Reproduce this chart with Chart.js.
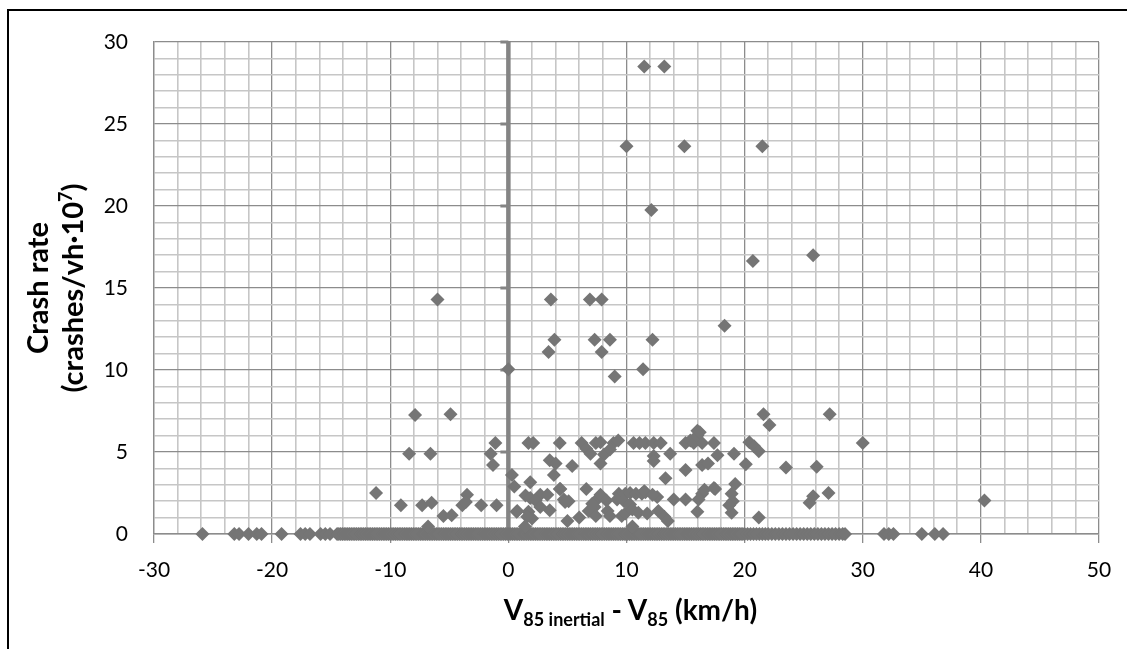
<!DOCTYPE html>
<html>
<head>
<meta charset="utf-8">
<script src="https://cdn.jsdelivr.net/npm/chart.js@4.4.1/dist/chart.umd.min.js"></script>
<style>
  body { margin: 0; background: #fff; }
  #wrap { position: relative; width: 1127px; height: 649px; overflow: hidden; }
  #frame { position: absolute; left: 7px; top: 9px; width: 1200px; height: 700px;
           border-top: 2px solid #000; border-left: 2px solid #000; }
  canvas { position: absolute; left: 0; top: 0; }
  .ttl { position: absolute; font-family: Lato, "Liberation Sans", sans-serif; font-weight: bold;
         color: #000; text-align: center; white-space: nowrap; }
  #xTitle { left: 158px; width: 945px; top: 592px; font-size: 28px; }
  #xTitle sub { font-size: 18px; vertical-align: -6px; }
  #yTitle { left: -146px; width: 400px; top: 253px; font-size: 29px; line-height: 35px; transform: rotate(-90deg); }
  #yTitle sup { font-size: 18px; vertical-align: 11px; line-height: 0; }
</style>
</head>
<body>
<div id="wrap">
  <div id="frame"></div>
  <canvas id="chart" width="1127" height="649"></canvas>
  <div id="xTitle" class="ttl">V<sub>85 inertial</sub> - V<sub>85</sub> (km/h)</div>
  <div id="yTitle" class="ttl">Crash rate<br>(crashes/vh·10<sup>7</sup>)</div>
</div>
<script>
  // sites with zero crash rate (x only) - the run between -14.5 and 28.5 is so dense it reads as a solid band
  const zeroX = [-25.9, -23.2, -22.8, -22.0, -21.3, -20.9, -19.2, -17.6, -17.2, -16.8, -15.9, -15.5, -15.1,
    -14.5, -14.35, -14.2, -14.05, -13.9, -13.75, -13.6, -13.45, -13.3, -13.15, -13.0, -12.85, -12.7,
    -12.55, -12.4, -12.25, -12.1, -11.95, -11.8, -11.65, -11.5, -11.35, -11.2, -11.05, -10.9, -10.75,
    -10.6, -10.45, -10.3, -10.15, -10.0, -9.85, -9.7, -9.55, -9.4, -9.25, -9.1, -8.95, -8.8, -8.65,
    -8.5, -8.35, -8.2, -8.05, -7.9, -7.75, -7.6, -7.45, -7.3, -7.15, -7.0, -6.85, -6.7, -6.55, -6.4,
    -6.25, -6.1, -5.95, -5.8, -5.65, -5.5, -5.35, -5.2, -5.05, -4.9, -4.75, -4.6, -4.45, -4.3, -4.15,
    -4.0, -3.85, -3.7, -3.55, -3.4, -3.25, -3.1, -2.95, -2.8, -2.65, -2.5, -2.35, -2.2, -2.05, -1.9,
    -1.75, -1.6, -1.45, -1.3, -1.15, -1.0, -0.85, -0.7, -0.55, -0.4, -0.25, -0.1, 0.05, 0.2, 0.35,
    0.5, 0.65, 0.8, 0.95, 1.1, 1.25, 1.4, 1.55, 1.7, 1.85, 2.0, 2.15, 2.3, 2.45, 2.6, 2.75, 2.9, 3.05,
    3.2, 3.35, 3.5, 3.65, 3.8, 3.95, 4.1, 4.25, 4.4, 4.55, 4.7, 4.85, 5.0, 5.15, 5.3, 5.45, 5.6, 5.75,
    5.9, 6.05, 6.2, 6.35, 6.5, 6.65, 6.8, 6.95, 7.1, 7.25, 7.4, 7.55, 7.7, 7.85, 8.0, 8.15, 8.3, 8.45,
    8.6, 8.75, 8.9, 9.05, 9.2, 9.35, 9.5, 9.65, 9.8, 9.95, 10.1, 10.25, 10.4, 10.55, 10.7, 10.85, 11.0,
    11.15, 11.3, 11.45, 11.6, 11.75, 11.9, 12.05, 12.2, 12.35, 12.5, 12.65, 12.8, 12.95, 13.1, 13.25,
    13.4, 13.55, 13.7, 13.85, 14.0, 14.15, 14.3, 14.45, 14.6, 14.75, 14.9, 15.05, 15.2, 15.35, 15.5,
    15.65, 15.8, 15.95, 16.1, 16.25, 16.4, 16.55, 16.7, 16.85, 17.0, 17.15, 17.3, 17.45, 17.6, 17.75,
    17.9, 18.05, 18.2, 18.35, 18.5, 18.65, 18.8, 18.95, 19.1, 19.25, 19.4, 19.55, 19.7, 19.85, 20.0,
    20.25, 20.5, 20.75, 21.0, 21.25, 21.5, 21.75, 22.0, 22.3, 22.6, 22.9, 23.2, 23.5, 23.8, 24.1, 24.4,
    24.7, 25.0, 25.3, 25.6, 25.9, 26.2, 26.5, 26.8, 27.1, 27.4, 27.7, 28.0, 28.3, 28.5,
    31.8, 32.2, 32.6, 35.0, 36.1, 36.8];

  // sites with crashes
  const crashX = [11.5, 13.2, 10.0, 14.9, 21.5, 12.1, 20.7, 25.8, -6.0, 3.6, 6.9, 7.9, 18.3, 3.9, 7.3,
    8.6, 12.2, 3.4, 7.9, 9.0, 11.4, 0.0,
    -7.9, -4.9, 21.6, 22.1, 27.2, 16.0,
    -8.4, -6.6, -1.1, -1.5, -1.3,
    1.7, 2.1, 4.35, 6.2, 6.6, 7.4, 7.8, 6.95, 8.1, 7.8, 8.9, 9.3, 8.6, 10.6, 11.1, 11.6, 12.3, 12.9,
    12.3, 12.3, 13.7,
    15.0, 15.4, 15.7, 16.0, 16.2, 16.4, 17.4, 17.7, 19.1, 20.1, 20.4, 20.8, 21.2, 30.0,
    3.5, 4.0, 5.4, 3.85, 15.0, 16.4, 16.9, 23.5, 26.1,
    0.3, 0.5, 1.85, 13.3, 17.5, 19.2, 4.35, 6.6,
    1.45, 1.85, 2.7, 3.3, 2.3, 4.7, 5.1, 7.5, 7.1, 7.8, 8.3,
    9.35, 9.9, 10.3, 10.8, 11.3, 11.5, 12.6, 11.6, 12.2, 9.2, 9.8, 10.3,
    0.75, 1.7, 3.5, 2.0, 1.6, 2.7, 5.0, 6.0, 6.8, 7.3, 7.4, 8.4, 8.6, 9.6, 9.9, 10.5, 11.0, 11.75,
    12.7, 13.2, 13.5,
    14.0, 15.0, 16.4, 16.6, 16.1, 16.0, 17.4, 18.9, 19.0, 18.9, 18.7, 21.2,
    25.5, 25.8, 27.1, 40.3, 4.4, 4.8,
    -11.2, -9.1, -7.3, -6.5, -5.5, -4.8, -3.9, -3.5, -3.6, -2.3, -1.0, 0.7,
    -6.8, 1.4, 10.5];
  const crashY = [28.5, 28.5, 23.65, 23.65, 23.65, 19.75, 16.65, 17.0, 14.3, 14.3, 14.3, 14.3, 12.7, 11.85, 11.85,
    11.85, 11.85, 11.1, 11.1, 9.6, 10.05, 10.05,
    7.25, 7.3, 7.3, 6.65, 7.3, 6.3,
    4.9, 4.9, 5.55, 4.9, 4.2,
    5.55, 5.55, 5.55, 5.55, 5.2, 5.55, 5.6, 4.9, 4.85, 4.3, 5.55, 5.7, 5.15, 5.55, 5.55, 5.55, 5.55, 5.55,
    4.75, 4.45, 4.9,
    5.55, 5.7, 5.55, 6.0, 6.2, 5.55, 5.55, 4.8, 4.9, 4.25, 5.6, 5.35, 5.05, 5.55,
    4.5, 4.3, 4.15, 3.6, 3.9, 4.2, 4.3, 4.05, 4.1,
    3.6, 2.9, 3.15, 3.4, 2.75, 3.05, 2.75, 2.75,
    2.35, 2.2, 2.4, 2.4, 2.05, 2.1, 2.0, 2.1, 1.85, 2.4, 2.05,
    2.45, 2.45, 2.5, 2.45, 2.45, 2.6, 2.25, 2.55, 2.4, 2.1, 2.0, 1.8,
    1.4, 1.35, 1.45, 0.95, 1.05, 1.65, 0.8, 1.0, 1.4, 1.65, 1.1, 1.4, 1.1, 1.1, 1.25, 1.5, 1.3, 1.25,
    1.4, 1.05, 0.8,
    2.1, 2.1, 2.45, 2.7, 2.1, 1.35, 2.8, 2.45, 2.0, 1.3, 1.75, 1.0,
    1.9, 2.3, 2.5, 2.05, 2.75, 1.95,
    2.5, 1.75, 1.75, 1.9, 1.1, 1.15, 1.75, 2.4, 1.95, 1.75, 1.75, 1.35,
    0.45, 0.45, 0.45];

  const xMin = -30, xMax = 50, xStep = 2, xLabelStep = 10;
  const yMin = 0, yMax = 30, yStep = 1, yLabelStep = 5;

  const points = zeroX.map(x => ({ x: x, y: 0 }))
    .concat(crashX.map((x, i) => ({ x: x, y: crashY[i] })));

  const majorGrid = '#8c8c8c';
  const minorGrid = '#c6c6c6';
  const markGray = '#757575';

  // vertical axis crosses at x = 0 (thick line with outward ticks)
  const zeroAxis = {
    id: 'zeroAxis',
    beforeDatasetsDraw(chart) {
      const { ctx, scales: { x, y } } = chart;
      const px = x.getPixelForValue(0);
      ctx.save();
      ctx.strokeStyle = '#848484';
      ctx.lineWidth = 4.5;
      ctx.beginPath();
      ctx.moveTo(px, y.getPixelForValue(yMin));
      ctx.lineTo(px, y.getPixelForValue(yMax) - 1);
      ctx.stroke();
      ctx.lineWidth = 3;
      ctx.beginPath();
      for (let v = yLabelStep; v <= yMax; v += yLabelStep) {
        const py = y.getPixelForValue(v);
        ctx.moveTo(px - 8, py);
        ctx.lineTo(px, py);
      }
      ctx.stroke();
      ctx.restore();
    }
  };

  new Chart(document.getElementById('chart').getContext('2d'), {
    type: 'scatter',
    data: {
      datasets: [{
        data: points,
        clip: false,
        pointStyle: 'rectRot',
        pointRadius: 7,
        pointHoverRadius: 7,
        pointBorderWidth: 0,
        backgroundColor: markGray,
        borderColor: markGray
      }]
    },
    options: {
      responsive: false,
      animation: false,
      events: [],
      layout: { padding: { top: 42, right: 28, left: 0, bottom: 0 } },
      plugins: { legend: { display: false }, tooltip: { enabled: false } },
      scales: {
        x: {
          type: 'linear',
          min: xMin, max: xMax,
          afterFit(scale) { scale.height = 115; },
          border: { color: majorGrid, width: 1.5 },
          grid: {
            color: c => (c.tick && c.tick.value % xLabelStep === 0) ? majorGrid : minorGrid,
            lineWidth: c => (c.tick && c.tick.value % xLabelStep === 0) ? 1.3 : 1.6,
            tickColor: c => (c.tick && c.tick.value % xLabelStep === 0) ? majorGrid : 'rgba(0,0,0,0)',
            tickLength: 9
          },
          ticks: {
            stepSize: xStep,
            autoSkip: false,
            maxRotation: 0,
            padding: 15,
            color: '#000',
            font: { family: 'Lato', size: 21 },
            callback: v => (v % xLabelStep === 0 ? String(v) : '')
          }
        },
        y: {
          type: 'linear',
          min: yMin, max: yMax,
          afterFit(scale) { scale.width = 154; },
          border: { color: majorGrid, width: 1.3 },
          grid: {
            color: c => (c.tick && c.tick.value % yLabelStep === 0) ? majorGrid : minorGrid,
            lineWidth: c => (c.tick && c.tick.value % yLabelStep === 0) ? 1.3 : 1.6,
            drawTicks: false
          },
          ticks: {
            stepSize: yStep,
            autoSkip: false,
            padding: 26,
            color: '#000',
            font: { family: 'Lato', size: 21 },
            callback: v => (v % yLabelStep === 0 ? String(v) : '')
          }
        }
      }
    },
    plugins: [zeroAxis]
  });
</script>
</body>
</html>
